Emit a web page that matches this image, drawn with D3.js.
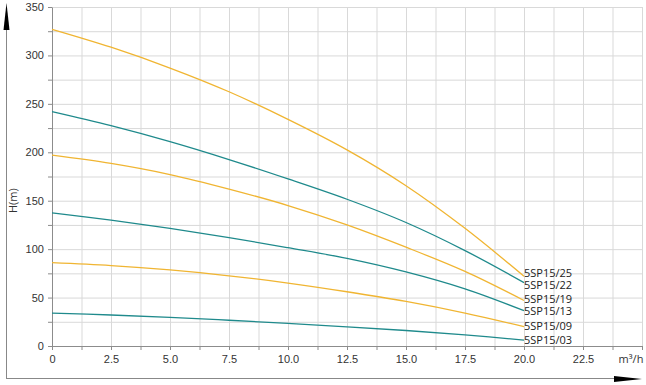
<!DOCTYPE html>
<html>
<head>
<meta charset="utf-8">
<script src="https://cdn.jsdelivr.net/npm/d3@7"></script>
<style>
  body { margin: 0; background: #fff; }
  svg { display: block; font-family: "Open Sans", "Segoe UI", sans-serif; }
  .grid line { stroke: #d9d9d9; stroke-width: 1; }
  .axis path, .axis line { stroke: #8c8c8c; }
  .axis text { font-size: 11px; fill: #333; }
  .curve { fill: none; stroke-width: 1.3; }
  .curve-label { font-size: 11px; fill: #222; }
</style>
</head>
<body>
<svg id="chart" width="646" height="385"></svg>
<script>
// flow (m³/h)
const flow = [0, 2.5, 5, 7.5, 10, 12.5, 15, 17.5, 20];

// head H(m) per pump model
const sp25 = [327, 308.5, 287, 262.5, 234, 202.5, 165.5, 121.5, 72];
const sp22 = [242, 227.5, 211, 192.5, 172.5, 151.5, 127.5, 98.5, 65.5];
const sp19 = [197, 188.5, 177, 162, 145, 125, 102, 77, 47];
const sp13 = [137.5, 130, 121.5, 112, 101.5, 90.5, 76.5, 59, 36.5];
const sp09 = [86, 83, 78.5, 72.5, 65, 56, 46, 34, 20];
const sp03 = [34, 32, 29.6, 26.6, 23.3, 19.8, 16, 11.5, 6];

const models = ['5SP15/25', '5SP15/22', '5SP15/19', '5SP15/13', '5SP15/09', '5SP15/03'];
const heads = [sp25, sp22, sp19, sp13, sp09, sp03];
const colors = ['#f0b532', '#1f8a8c', '#f0b532', '#1f8a8c', '#f0b532', '#1f8a8c'];

const xTicks = [0, 2.5, 5, 7.5, 10, 12.5, 15, 17.5, 20, 22.5];
const yTicks = [0, 50, 100, 150, 200, 250, 300, 350];

const svg = d3.select('#chart');
const plot = {left: 52, right: 642, top: 7, bottom: 346};

const x = d3.scaleLinear().domain([0, 25]).range([plot.left, plot.right]);
const y = d3.scaleLinear().domain([0, 350]).range([plot.bottom, plot.top]);

// grid (major + minor)
const xGrid = d3.range(0, 25.01, 1.25);
const yGrid = d3.range(0, 350.01, 25);
const grid = svg.append('g').attr('class', 'grid');
grid.selectAll('.gx').data(xGrid).join('line')
  .attr('x1', d => x(d) + 0.5).attr('x2', d => x(d) + 0.5)
  .attr('y1', plot.top).attr('y2', plot.bottom);
grid.selectAll('.gy').data(yGrid).join('line')
  .attr('x1', plot.left).attr('x2', plot.right)
  .attr('y1', d => y(d) + 0.5).attr('y2', d => y(d) + 0.5);

// axes
const xAxis = svg.append('g').attr('class', 'axis')
  .attr('transform', `translate(0, ${plot.bottom})`)
  .call(d3.axisBottom(x).tickValues(xGrid).tickSize(4).tickSizeOuter(0)
    .tickFormat(d => xTicks.includes(d) ? (d === 0 ? '0' : d.toFixed(1)) : ''));
xAxis.selectAll('text').attr('dy', '0.9em');

const yAxis = svg.append('g').attr('class', 'axis')
  .attr('transform', `translate(${plot.left}, 0)`)
  .call(d3.axisLeft(y).tickValues(yGrid).tickSize(4).tickSizeOuter(0)
    .tickFormat(d => yTicks.includes(d) ? d : ''));
yAxis.selectAll('text').attr('dx', '-0.1em');

svg.append('text')
  .attr('x', x(25) - 11).attr('y', plot.bottom + 17)
  .attr('text-anchor', 'middle')
  .attr('font-size', 11).attr('fill', '#333')
  .text('m³/h');

svg.append('text')
  .attr('transform', `translate(17, ${y(150)}) rotate(-90)`)
  .attr('text-anchor', 'middle')
  .attr('font-size', 11).attr('fill', '#333')
  .text('H(m)');

// outer arrows
svg.append('line').attr('x1', 6.5).attr('x2', 6.5).attr('y1', 28).attr('y2', 378.5)
  .attr('stroke', '#888');
svg.append('line').attr('x1', 6).attr('x2', 618).attr('y1', 378.5).attr('y2', 378.5)
  .attr('stroke', '#888');
svg.append('path').attr('d', 'M6.5,3 L9.5,30 L3.5,30 Z').attr('fill', '#000');
svg.append('path').attr('d', 'M642,379 L614,376 L614,382 Z').attr('fill', '#000');

// curves
const line = d3.line()
  .x(d => x(d[0]))
  .y(d => y(d[1]))
  .curve(d3.curveCatmullRom);

heads.forEach((h, i) => {
  svg.append('path')
    .attr('class', 'curve')
    .attr('stroke', colors[i])
    .attr('d', line(flow.map((f, j) => [f, h[j]])));
});

// labels at curve ends, spread apart a little so they do not overlap
const labels = heads.map((h, i) => ({name: models[i], pos: y(h[h.length - 1])}));
const gap = 12;
for (let it = 0; it < 50; it++) {
  for (let i = 1; i < labels.length; i++) {
    const d = labels[i].pos - labels[i - 1].pos;
    if (d < gap) {
      const push = (gap - d) / 2;
      labels[i - 1].pos -= push;
      labels[i].pos += push;
    }
  }
}
svg.selectAll('.curve-label').data(labels).join('text')
  .attr('class', 'curve-label')
  .attr('x', x(20))
  .attr('y', d => d.pos)
  .attr('dy', '0.35em')
  .text(d => d.name);
</script>
</body>
</html>
